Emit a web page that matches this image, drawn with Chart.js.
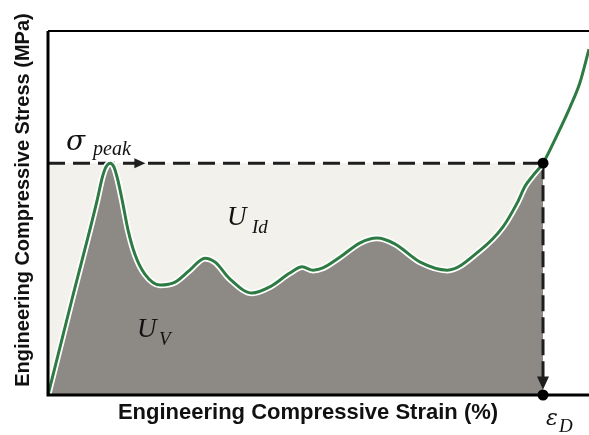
<!DOCTYPE html>
<html>
<head>
<meta charset="utf-8">
<script src="https://cdn.jsdelivr.net/npm/chart.js@4.4.1/dist/chart.umd.min.js"></script>
<style>
  body { margin: 0; background: #fff; }
  #wrap { width: 589px; height: 435px; }
</style>
</head>
<body>
<div id="wrap"><canvas id="chart" width="589" height="435"></canvas></div>
<script>
// stress-strain curve (no ticks in the original, so units are relative)
const strain = [0, 4.4, 9.1, 10.0, 10.7, 11.5, 12.2, 12.9, 13.7, 14.8, 16.1, 17.9, 20.7, 23.5, 26.2, 29.0, 30.9, 33.6, 37.7, 41.0, 44.7, 47.0, 49.0, 50.8, 54.0, 57.7, 60.8, 64.1, 68.8, 73.8, 79.9, 84.1, 86.7, 88.2, 89.6, 91.5, 94.1, 96.5, 98.3, 100];
const stress = [0, 26.1, 53.6, 59.6, 62.6, 63.7, 62.6, 59.1, 53.6, 45.3, 38.5, 33.2, 30.2, 31.0, 34.3, 37.6, 36.5, 31.9, 28.0, 29.7, 33.5, 35.2, 34.3, 34.9, 37.9, 41.8, 43.1, 41.5, 36.5, 34.3, 39.8, 46.2, 52.7, 57.4, 60.2, 63.7, 71.4, 79.1, 85.7, 95.0];

const peakStress = 63.7;   // sigma_peak
const epsD = 91.5;         // densification strain
const peakArrowAt = 18;    // head of the sigma_peak arrow
const arrowEnd = 1.5;      // head of the vertical arrow

const xTitle = 'Engineering Compressive Strain (%)';
const yTitle = 'Engineering Compressive Stress (MPa)';

const curve = strain.map((x, i) => ({ x: x, y: stress[i] }));
const upToD = curve.filter(p => p.x <= epsD);

const green = '#2d7b43';
const gray = '#8d8985';
const beige = '#f2f1ec';
const dark = '#1e1e1e';

// frame, arrowheads and labels
const decor = {
  id: 'decor',
  afterDatasetsDraw(chart) {
    const ctx = chart.ctx;
    const a = chart.chartArea;
    const xs = chart.scales.x, ys = chart.scales.y;
    ctx.save();
    ctx.strokeStyle = '#000';
    ctx.lineWidth = 3;
    ctx.beginPath();
    ctx.moveTo(a.left, a.top);
    ctx.lineTo(a.left, a.bottom);
    ctx.lineTo(a.right, a.bottom);
    ctx.stroke();
    ctx.lineWidth = 2;
    ctx.beginPath();
    ctx.moveTo(a.left, a.top);
    ctx.lineTo(a.right, a.top);
    ctx.stroke();

    // arrowheads
    ctx.fillStyle = dark;
    let px = xs.getPixelForValue(peakArrowAt), py = ys.getPixelForValue(peakStress);
    ctx.beginPath();
    ctx.moveTo(px, py);
    ctx.lineTo(px - 11, py - 5);
    ctx.lineTo(px - 11, py + 5);
    ctx.closePath();
    ctx.fill();
    px = xs.getPixelForValue(epsD); py = ys.getPixelForValue(arrowEnd);
    ctx.beginPath();
    ctx.moveTo(px, py);
    ctx.lineTo(px - 6, py - 13);
    ctx.lineTo(px + 6, py - 13);
    ctx.closePath();
    ctx.fill();

    // axis titles
    ctx.fillStyle = '#111';
    ctx.textAlign = 'center';
    ctx.textBaseline = 'middle';
    ctx.font = 'bold 22px "Liberation Sans", Arial, sans-serif';
    ctx.fillText(xTitle, 308, 413);
    ctx.save();
    ctx.translate(23, 200);
    ctx.rotate(-Math.PI / 2);
    ctx.font = 'bold 20px "Liberation Sans", Arial, sans-serif';
    ctx.fillText(yTitle, 0, 0);
    ctx.restore();

    // math labels
    ctx.textAlign = 'left';
    ctx.textBaseline = 'alphabetic';
    const serif = '"Liberation Serif", "Times New Roman", serif';
    const greek = '"DejaVu Serif", serif';
    ctx.font = 'italic 28px ' + greek;
    ctx.fillText('\u03c3', 66, 150);
    ctx.font = 'italic 20px ' + serif;
    ctx.fillText('peak', 93, 155);
    ctx.font = 'italic 27px ' + serif;
    ctx.fillText('U', 227, 225);
    ctx.fillText('U', 137, 337);
    ctx.font = 'italic 19px ' + serif;
    ctx.fillText('Id', 252, 233);
    ctx.fillText('V', 159, 345);
    ctx.font = 'italic 22px ' + greek;
    ctx.fillText('\u03b5', 546, 425);
    ctx.font = 'italic 19px ' + serif;
    ctx.fillText('D', 559, 432);
    ctx.restore();
  }
};

const config = {
  type: 'line',
  data: {
    datasets: [
      { // dots at sigma_peak / eps_D
        data: [{ x: epsD, y: peakStress }, { x: epsD, y: 0 }],
        showLine: false, pointRadius: 5.5, pointBackgroundColor: '#000', pointBorderWidth: 0,
        clip: false, order: 0
      },
      { // stress-strain curve
        data: curve, borderColor: green, borderWidth: 3, pointRadius: 0,
        cubicInterpolationMode: 'monotone', fill: false, order: 1
      },
      { // white halo under the curve
        data: upToD, borderColor: '#fff', borderWidth: 6.5, pointRadius: 0,
        cubicInterpolationMode: 'monotone', fill: false, order: 2
      },
      { // horizontal dashed line at sigma_peak
        data: [{ x: 0, y: peakStress }, { x: epsD, y: peakStress }],
        borderColor: dark, borderWidth: 3, borderDash: [17, 8], pointRadius: 0, fill: false, order: 3
      },
      { // vertical dashed line at eps_D
        data: [{ x: epsD, y: peakStress }, { x: epsD, y: arrowEnd + 3 }],
        borderColor: dark, borderWidth: 3, borderDash: [16, 6], pointRadius: 0, fill: false, order: 3
      },
      { // U_V area (gray)
        data: upToD, borderWidth: 0, borderColor: 'rgba(0,0,0,0)', pointRadius: 0,
        cubicInterpolationMode: 'monotone', fill: 'origin', backgroundColor: gray, order: 4
      },
      { // U_Id area (beige box up to sigma_peak)
        data: [{ x: 0, y: peakStress }, { x: epsD, y: peakStress }],
        borderWidth: 0, borderColor: 'rgba(0,0,0,0)', pointRadius: 0,
        fill: 'origin', backgroundColor: beige, order: 5
      }
    ]
  },
  options: {
    responsive: false,
    animation: false,
    devicePixelRatio: 1,
    layout: { autoPadding: false, padding: { left: 48, top: 31, right: 0, bottom: 40 } },
    scales: {
      x: { type: 'linear', min: 0, max: 100, display: false },
      y: { type: 'linear', min: 0, max: 100, display: false }
    },
    plugins: { legend: { display: false }, tooltip: { enabled: false } }
  },
  plugins: [decor]
};

new Chart(document.getElementById('chart'), config);
</script>
</body>
</html>
